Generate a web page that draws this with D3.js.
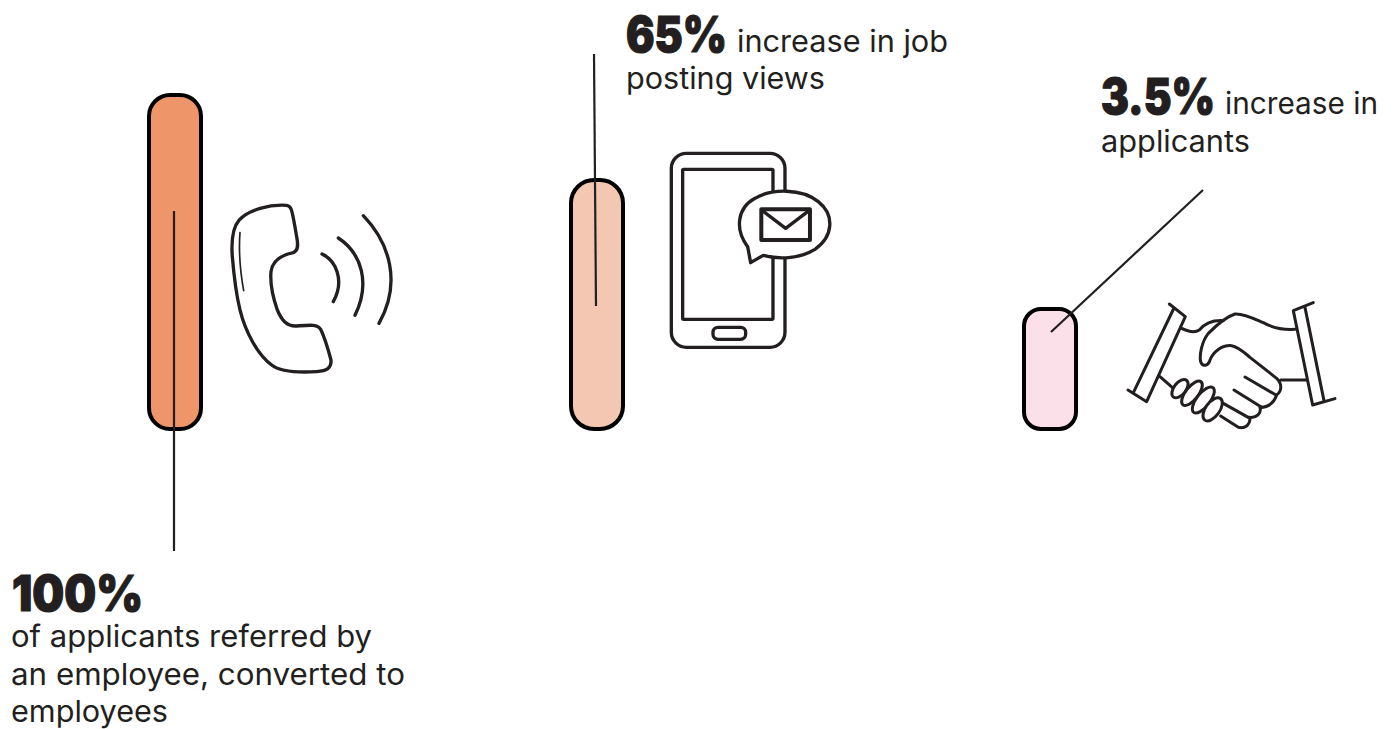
<!DOCTYPE html>
<html>
<head>
<meta charset="utf-8">
<script src="https://cdn.jsdelivr.net/npm/d3@7/dist/d3.min.js"></script>
<style>
  html, body { margin: 0; padding: 0; background: #fff; }
  svg { display: block; }
  .big { font-family: Inter, sans-serif; font-weight: 900; fill: #231f20; stroke: #231f20; stroke-width: 1.2px; }
  .note { font-family: Inter, sans-serif; font-weight: 400; fill: #231f20; }
  .ink { fill: none; stroke: #231f20; stroke-linecap: round; stroke-linejoin: round; }
</style>
</head>
<body>
<svg id="chart" width="1398" height="729"></svg>
<script>
// Referral programme outcomes
const outcomes = ["converted", "views", "applicants"];
const percentages = [100, 65, 3.5];
const figureLabels = ["100%", "65%", "3.5%"];
const fillColours = ["#EE9569", "#F4C7B2", "#FBE0E9"];
const noteLines = [
  ["of applicants referred by", "an employee, converted to", "employees"],
  ["posting views"],
  ["applicants"]
];
const noteWidths = [[361, 394, 157], [199], [149]];
const inlineNotes = ["", "increase in job", "increase in"];
const inlineWidths = [0, 211, 153];

const svg = d3.select("#chart");

// Columns are spaced by hand; bar length follows a piecewise pictorial scale.
const x = d3.scaleOrdinal().domain(outcomes).range([149, 571, 1024]);
const barWidth = 52;
const baseline = 429;
const barLength = d3.scaleLinear().domain([0, 3.5, 65, 100]).range([0, 120, 249, 334]);
const cornerRadii = [21, 23, 17];

svg.selectAll("rect.bar")
  .data(outcomes)
  .join("rect")
  .attr("class", "bar")
  .attr("x", d => x(d))
  .attr("width", barWidth)
  .attr("y", (d, i) => baseline - barLength(percentages[i]))
  .attr("height", (d, i) => barLength(percentages[i]))
  .attr("rx", (d, i) => cornerRadii[i])
  .attr("fill", (d, i) => fillColours[i])
  .attr("stroke", "#000")
  .attr("stroke-width", 4);

// Leader lines from each bar to its caption
const leaders = [
  [[174, 551], [174, 211]],
  [[594, 54], [596, 306]],
  [[1203, 190], [1051, 332]]
];
svg.selectAll("path.leader")
  .data(leaders)
  .join("path")
  .attr("class", "leader")
  .attr("d", d3.line())
  .attr("fill", "none")
  .attr("stroke", "#231f20")
  .attr("stroke-width", 2.2);

// Captions
const captionAnchors = [
  { x: 12, big: 611, inlineX: 0, lines: [647, 685, 722], lineX: 11 },
  { x: 626, big: 52, inlineX: 737, lines: [89], lineX: 626 },
  { x: 1101, big: 114, inlineX: 1225, lines: [152], lineX: 1101 }
];
const bigWidths = [131, 101, 114];
const noteSize = 30;
captionAnchors.forEach((c, i) => {
  svg.append("text").attr("class", "big")
    .attr("x", c.x).attr("y", c.big)
    .attr("font-size", 49)
    .attr("textLength", bigWidths[i]).attr("lengthAdjust", "spacingAndGlyphs")
    .text(figureLabels[i]);
  if (inlineNotes[i]) {
    svg.append("text").attr("class", "note")
      .attr("x", c.inlineX).attr("y", c.big)
      .attr("font-size", noteSize)
      .attr("textLength", inlineWidths[i]).attr("lengthAdjust", "spacingAndGlyphs")
      .text(inlineNotes[i]);
  }
  noteLines[i].forEach((t, j) => {
    svg.append("text").attr("class", "note")
      .attr("x", c.lineX).attr("y", c.lines[j])
      .attr("font-size", noteSize)
      .attr("textLength", noteWidths[i][j]).attr("lengthAdjust", "spacingAndGlyphs")
      .text(t);
  });
});

// Telephone handset with sound waves
const phone = svg.append("g").attr("class", "ink")
  .attr("transform", "translate(130,80) scale(0.3333)")
  .attr("stroke-width", 10);
phone.append("path").attr("d", "M470 376C420 372 355 390 328 420C306 445 304 490 307 530C312 590 318 640 330 690C347 760 385 825 425 855C450 875 510 878 560 875C590 873 605 865 603 840C595 810 585 775 572 748C562 732 540 735 500 738C470 740 455 720 442 690C428 650 420 610 423 575C428 540 455 525 490 518C505 512 505 495 500 470C495 440 490 410 485 392C482 380 478 377 470 376Z");
phone.append("path").attr("d", "M330 458C326 510 330 570 341 632").attr("stroke-width", 5);
phone.append("path").attr("d", "M576 522C616 540 646 600 610 665");
phone.append("path").attr("d", "M625 474C695 520 722 610 675 706");
phone.append("path").attr("d", "M700 407C780 490 815 610 747 730");

// Smartphone with message bubble
const mobile = svg.append("g").attr("class", "ink")
  .attr("transform", "translate(555,140) scale(0.3333)")
  .attr("stroke-width", 10);
mobile.append("rect").attr("x", 349).attr("y", 40).attr("width", 341).attr("height", 582).attr("rx", 45);
mobile.append("rect").attr("x", 383).attr("y", 88).attr("width", 271).attr("height", 450).attr("rx", 3);
mobile.append("rect").attr("x", 474).attr("y", 562).attr("width", 98).attr("height", 36).attr("rx", 15);
mobile.append("path").style("fill", "#fff")
  .attr("d", "M578 320C540 270 545 205 600 175C650 145 740 145 790 185C840 225 835 290 780 328C730 358 670 358 625 346L587 368Z");
mobile.append("rect").attr("x", 619).attr("y", 208).attr("width", 146).attr("height", 92).attr("stroke-width", 12);
mobile.append("path").attr("d", "M622 212L692 265L762 212");

// Handshake
const shake = svg.append("g").attr("class", "ink")
  .attr("transform", "translate(1010,280) scale(0.3333)")
  .attr("stroke-width", 9);
shake.append("path").attr("d", "M478 72L526 110L410 365L354 330M492 84L372 334");
shake.append("path").attr("d", "M910 68L850 92L908 375L975 356M885 82L942 362");
shake.append("path").attr("d", "M515 145C535 155 555 158 568 150C585 130 610 120 640 122");
shake.append("path").attr("d", "M450 290L490 325");
shake.append("path").attr("d", "M812 300L888 300");
shake.append("path").attr("d", "M855 148C820 150 790 145 760 128C730 115 700 100 675 102C650 110 620 135 595 160C575 185 568 225 572 245C578 262 595 258 600 240C610 215 635 195 665 197C685 200 700 215 720 232L800 295C818 312 815 335 800 345C795 360 785 382 750 382C755 400 740 415 718 412");
shake.append("path").attr("d", "M705 291L798 345M672 330L755 382");
shake.append("path").attr("d", "M640 370L720 415C720 435 705 447 685 442L632 408");
// Fingers of the left hand, back to front
[[510, 326, 38, 18, 32], [546, 340, 38, 19, 44], [580, 360, 38, 20, 47], [608, 388, 36, 21, 40]].forEach(f => {
  shake.append("ellipse").style("fill", "#fff")
    .attr("rx", f[3]).attr("ry", f[4])
    .attr("transform", `translate(${f[0]},${f[1]}) rotate(${f[2]})`);
});
</script>
</body>
</html>
